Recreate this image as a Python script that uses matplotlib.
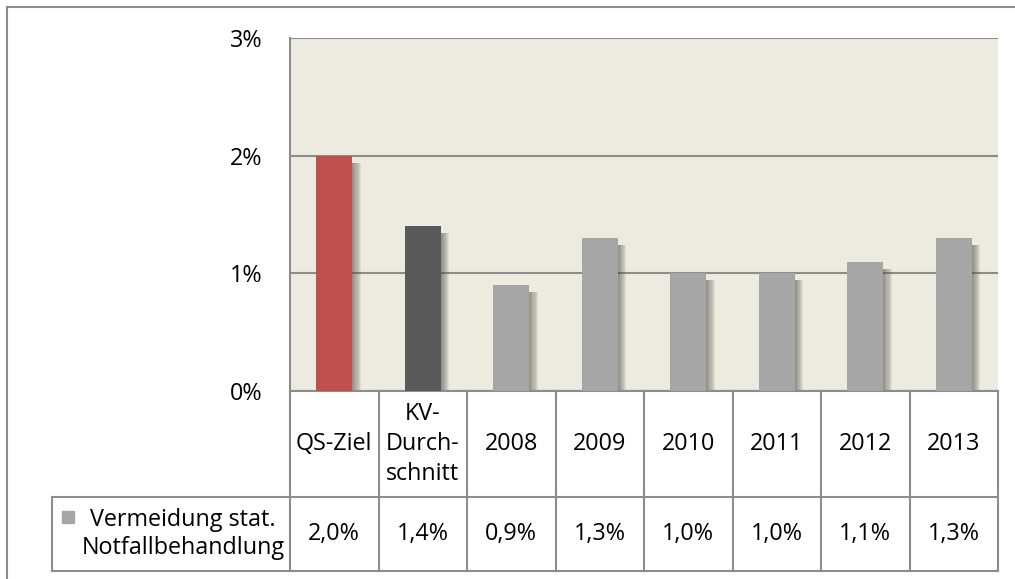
import matplotlib.pyplot as plt
import matplotlib.transforms as mtransforms
from matplotlib.patches import Rectangle

plt.rcParams['font.family'] = ['Open Sans', 'DejaVu Sans']

# Daten
categories = ['QS-Ziel', 'KV-\nDurch-\nschnitt', '2008', '2009', '2010', '2011', '2012', '2013']
values = [2.0, 1.4, 0.9, 1.3, 1.0, 1.0, 1.1, 1.3]
series_name = 'Vermeidung stat.\nNotfallbehandlung'
yticks = [0, 1, 2, 3]

bar_colors = ['#C0504D', '#595959'] + ['#A6A6A6'] * 6
grid_col = '#8C8C8C'
fs = 16.8

fig = plt.figure(figsize=(10.15, 5.79), dpi=100)
W, H = 1015, 579
ax = fig.add_axes([290 / W, (H - 391) / H, 708 / W, 353 / H])
ax.set_facecolor('#EDEAE0')
ax.set_xlim(-0.5, len(categories) - 0.5)
ax.set_ylim(0, 3)

x = range(len(categories))
bw = 0.41

# weicher Schatten rechts neben den Balken
for k in range(8):
    ax.bar([i + 0.01 + k * 0.012 for i in x], [v - 0.04 for v in values], width=bw,
           bottom=-0.02, color='#4a4a40', alpha=0.09, zorder=2, linewidth=0)
ax.bar(x, values, width=bw, color=bar_colors, zorder=3, linewidth=0)

# Achsen
ax.set_yticks(yticks)
ax.set_yticklabels([f'{t}%' for t in yticks], fontsize=fs)
ax.tick_params(axis='y', length=0, pad=20)
ax.set_xticks([])
ax.grid(axis='y', color=grid_col, linewidth=1.5, zorder=1)
for s in ['top', 'right', 'bottom']:
    ax.spines[s].set_visible(False)
ax.spines['left'].set_color(grid_col)
ax.spines['left'].set_linewidth(1.5)

# Datentabelle unter dem Diagramm
tr = mtransforms.blended_transform_factory(ax.transData, ax.transAxes)
y_head = -106 / 353
y_row = -180 / 353
x_leg = -0.5 - 238 / 88.5
lkw = dict(color=grid_col, linewidth=1.5, transform=tr, clip_on=False)
for i in range(len(categories) + 1):
    ax.plot([i - 0.5, i - 0.5], [0, y_row], **lkw)
ax.plot([x_leg, len(categories) - 0.5], [y_head, y_head], **lkw)
ax.plot([x_leg, len(categories) - 0.5], [y_row, y_row], **lkw)
ax.plot([x_leg, x_leg], [y_head, y_row], **lkw)
ax.plot([-0.5, len(categories) - 0.5], [0, 0], **lkw)

for i, (c, v) in enumerate(zip(categories, values)):
    ax.text(i, y_head / 2, c, transform=tr, ha='center', va='center', fontsize=fs,
            linespacing=1.35)
    ax.text(i, (y_head + y_row) / 2, f'{v:.1f}%'.replace('.', ','), transform=tr,
            ha='center', va='center', fontsize=fs)

ax.add_patch(Rectangle((x_leg + 10 / 88.5, -0.375), 12 / 88.5, 12 / 353,
                       color='#A6A6A6', transform=tr, clip_on=False))
ax.text(-0.5 - 107 / 88.5, (y_head + y_row) / 2, series_name, transform=tr,
        ha='center', va='center', fontsize=fs, linespacing=1.2)

# Rahmen
fig.add_artist(plt.Line2D([7 / W, 7 / W], [0, 1 - 7 / H], color=grid_col, linewidth=1.5))
fig.add_artist(plt.Line2D([7 / W, 1], [1 - 7 / H, 1 - 7 / H], color=grid_col, linewidth=1.5))

fig.savefig('out.png', dpi=100)
